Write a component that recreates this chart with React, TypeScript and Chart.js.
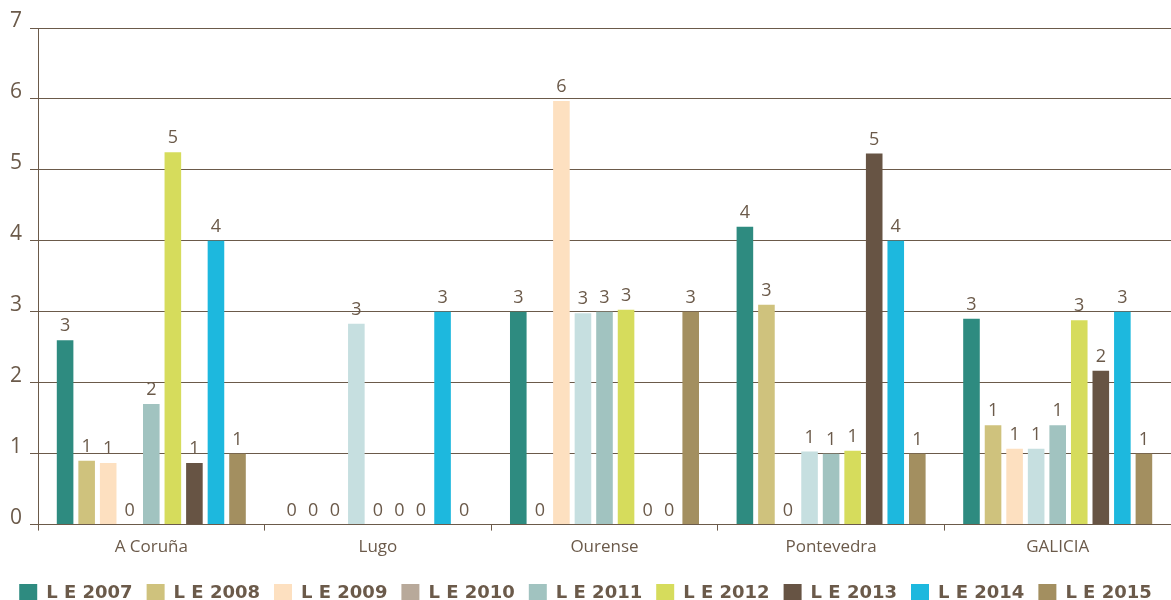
import React, { useEffect, useRef } from "react";
import { Chart, registerables } from "chart.js";

Chart.register(...registerables);

const categories = ["A Coruña", "Lugo", "Ourense", "Pontevedra", "GALICIA"];
const seriesNames = ["L E 2007", "L E 2008", "L E 2009", "L E 2010", "L E 2011", "L E 2012", "L E 2013", "L E 2014", "L E 2015"];
const le2007 = [2.6, 0, 3.0, 4.2, 2.9];
const le2008 = [0.9, 0, 0, 3.1, 1.4];
const le2009 = [0.87, 0, 5.97, 0, 1.07];
const le2010 = [0, 2.83, 2.98, 1.03, 1.07];
const le2011 = [1.7, 0, 3.0, 1.0, 1.4];
const le2012 = [5.25, 0, 3.03, 1.04, 2.88];
const le2013 = [0.87, 0, 0, 5.23, 2.17];
const le2014 = [4.0, 3.0, 0, 4.0, 3.0];
const le2015 = [1.0, 0, 3.0, 1.0, 1.0];
const seriesValues = [le2007, le2008, le2009, le2010, le2011, le2012, le2013, le2014, le2015];
const barColors = ["#2e8b80", "#cfc27d", "#fde0c0", "#c6dfe0", "#a1c3c0", "#d6dc5c", "#675444", "#1db8de", "#a38f60"];
const legendColors = ["#2e8b80", "#cfc27d", "#fde0c0", "#b8a99a", "#a1c3c0", "#d6dc5c", "#675444", "#1db8de", "#a38f60"];
const yTicks = [0, 1, 2, 3, 4, 5, 6, 7];

const TEXT = "#6b5a4a";
const FONT = "'Open Sans', 'Noto Sans', sans-serif";
const LEGEND_FONT = "'DejaVu Sans', sans-serif";

const valueLabels = {
  id: "valueLabels",
  afterDatasetsDraw(chart: any) {
    const ctx = chart.ctx;
    ctx.save();
    ctx.font = `400 18px ${FONT}`;
    ctx.fillStyle = TEXT;
    ctx.textAlign = "center";
    ctx.textBaseline = "bottom";
    chart.data.datasets.forEach((ds: any, di: number) => {
      const meta = chart.getDatasetMeta(di);
      meta.data.forEach((bar: any, i: number) => {
        const v = ds.data[i];
        ctx.fillText(String(Math.round(v)), bar.x, bar.y - 5);
      });
    });
    ctx.restore();
  },
};

export default function App() {
  const ref = useRef<HTMLCanvasElement | null>(null);
  useEffect(() => {
    if (!ref.current) return;
    const chart = new Chart(ref.current, {
      type: "bar",
      data: {
        labels: categories,
        datasets: seriesNames.map((name, i) => ({
          label: name,
          data: seriesValues[i],
          backgroundColor: barColors[i],
          borderWidth: 0,
          categoryPercentage: 0.856,
          barPercentage: 0.77,
        })),
      },
      options: {
        animation: false,
        responsive: true,
        maintainAspectRatio: false,
        layout: { padding: { left: 0, right: 0, top: 28, bottom: -12 } },
        plugins: {
          tooltip: { enabled: false },
          legend: {
            position: "bottom",
            labels: {
              boxWidth: 18,
              boxHeight: 18,
              padding: 14,
              color: TEXT,
              font: { family: LEGEND_FONT, size: 18, weight: "bold" },
              generateLabels: (chart: any) => {
                const items = Chart.defaults.plugins.legend.labels.generateLabels(chart);
                return items.map((it: any, i: number) => ({
                  ...it,
                  fillStyle: legendColors[i],
                  strokeStyle: legendColors[i],
                  lineWidth: 0,
                }));
              },
            },
          },
        },
        scales: {
          x: {
            grid: { display: true, drawOnChartArea: false, offset: true, color: TEXT, tickLength: 6 },
            border: { display: true, color: TEXT },
            ticks: { color: TEXT, font: { family: FONT, size: 17 }, padding: 6 },
            afterFit: (axis: any) => {
              axis.height = axis.height + 7;
            },
          },
          y: {
            min: 0,
            max: 7,
            afterBuildTicks: (axis: any) => {
              axis.ticks = yTicks.map((v) => ({ value: v }));
            },
            afterFit: (axis: any) => {
              axis.width = 38;
            },
            grid: { color: TEXT, lineWidth: 1, tickLength: 8 },
            border: { display: true, color: TEXT },
            ticks: { color: TEXT, font: { family: FONT, size: 21 }, padding: 8, labelOffset: -7 },
          },
        },
      },
      plugins: [valueLabels],
    });
    return () => chart.destroy();
  }, []);
  return (
    <div style={{ position: "fixed", left: 0, top: 0, width: 1171, height: 600, background: "#fff" }}>
      <canvas ref={ref} />
    </div>
  );
}
